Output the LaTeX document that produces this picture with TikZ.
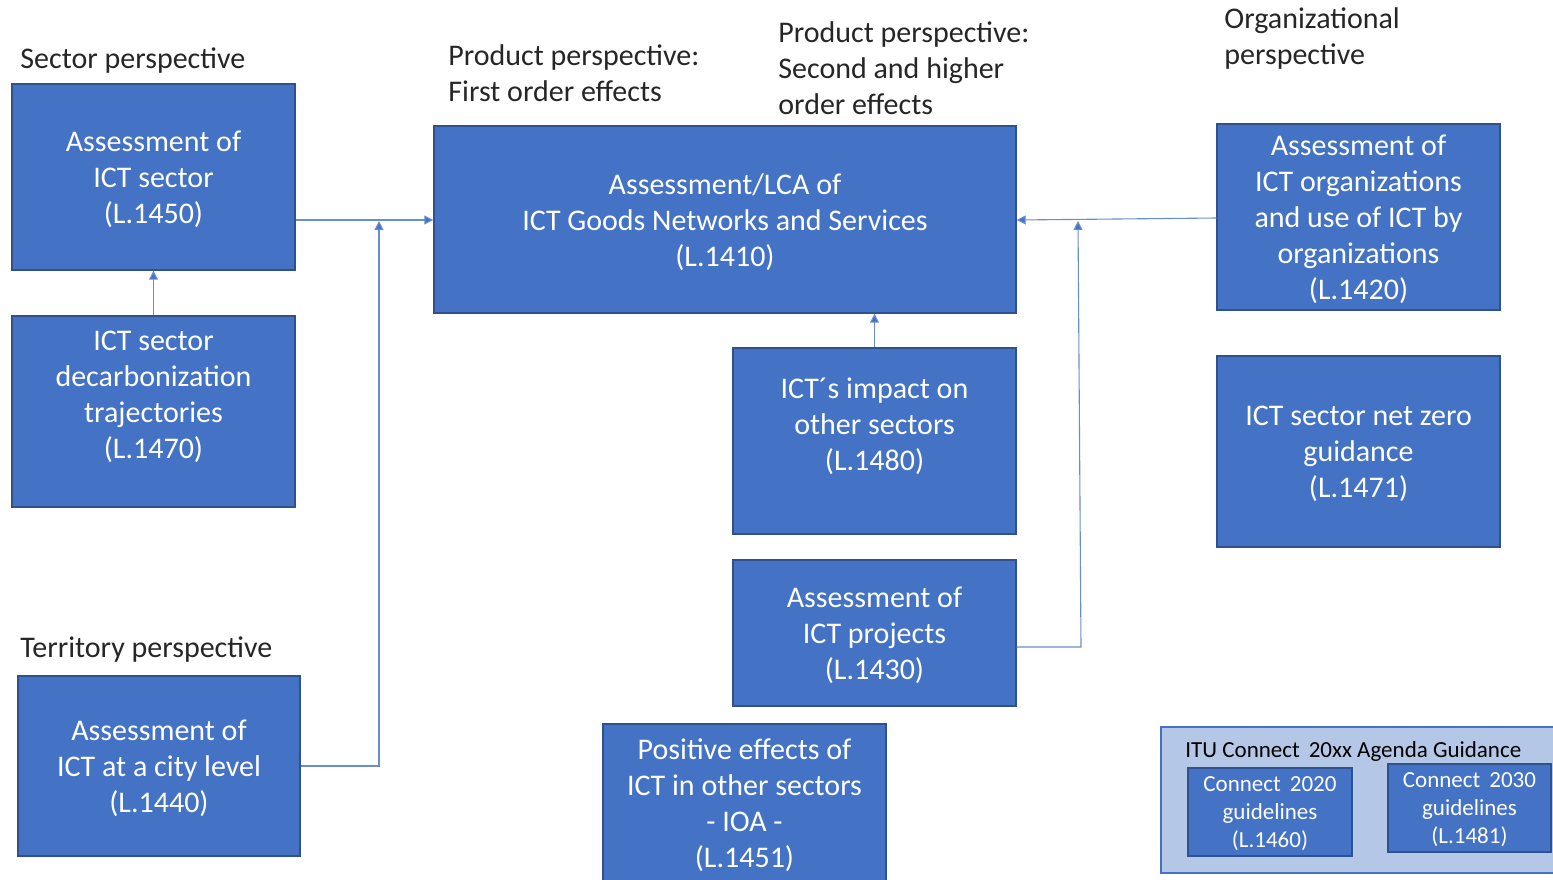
\documentclass[tikz,border=0pt]{standalone}
\usepackage{fontspec}
\setmainfont{Carlito}
\usetikzlibrary{arrows.meta,calc}
\definecolor{boxblue}{HTML}{4472C4}
\definecolor{boxedge}{HTML}{2F528F}
\definecolor{lightblue}{HTML}{B4C7E7}
\definecolor{linkblue}{HTML}{4472C4}
\definecolor{labelgray}{HTML}{262626}
\tikzset{
  box/.style={draw=boxedge, line width=0.7pt, fill=boxblue, inner sep=0pt},
  boxtxt/.style={text=white, align=center, font=\fontsize{15}{18}\selectfont, inner sep=0pt, yshift=-1.2pt},
  smalltxt/.style={text=white, align=center, font=\fontsize{11.5}{14}\selectfont, inner sep=0pt, yshift=-0.8pt},
  heading/.style={text=labelgray, align=left, anchor=west, font=\fontsize{15}{18}\selectfont, inner sep=0pt, yshift=-1.2pt},
  link/.style={draw=linkblue!80, line width=0.55pt},
  arr/.style={link, -{Triangle[length=4.5pt,width=4.5pt,fill=linkblue]}},
}
\begin{document}
\begin{tikzpicture}[x=0.5pt,y=-0.5pt]
\useasboundingbox (0,0) rectangle (1553,879);
% headings
\node[heading] (hsec) at (20,58) {Sector perspective};
\node[heading] (hprod1) at (448,71) {Product perspective:\\First order effects};
\node[heading] (hprod2) at (778,66) {Product perspective:\\Second and higher\\order effects};
\node[heading] (horg) at (1224,36) {Organizational\\perspective};
\node[heading] (hter) at (20,647) {Territory perspective};
% boxes
\node[box, minimum width=141.5pt, minimum height=93pt] (a1450) at (153.5,177) {};
\node[boxtxt] at (a1450.center) {Assessment of\\ICT sector\\(L.1450)};
\node[box, minimum width=141.5pt, minimum height=95.5pt] (b1470) at (153.5,411.5) {};
\node[boxtxt] at ($(b1470.center)+(0,-17.5)$) {ICT sector\\decarbonization\\trajectories\\(L.1470)};
\node[box, minimum width=291pt, minimum height=93.5pt] (lca) at (725,219.5) {};
\node[boxtxt] at (lca.center) {Assessment/LCA of\\ICT Goods Networks and Services\\(L.1410)};
\node[box, minimum width=141.5pt, minimum height=93pt] (c1480) at (874.5,441) {};
\node[boxtxt] at ($(c1480.center)+(0,-17)$) {ICT´s impact on\\other sectors\\(L.1480)};
\node[box, minimum width=141.5pt, minimum height=73pt] (c1430) at (874.5,633) {};
\node[boxtxt] at (c1430.center) {Assessment of\\ICT projects\\(L.1430)};
\node[box, minimum width=141.5pt, minimum height=79pt] (c1451) at (744.5,803) {};
\node[boxtxt] at (c1451.center) {Positive effects of\\ICT in other sectors\\- IOA -\\(L.1451)};
\node[box, minimum width=141.5pt, minimum height=93pt] (o1420) at (1358.5,217) {};
\node[boxtxt] at (o1420.center) {Assessment of\\ICT organizations\\and use of ICT by\\organizations\\(L.1420)};
\node[box, minimum width=141.5pt, minimum height=95.5pt] (o1471) at (1358.5,451.5) {};
\node[boxtxt] at (o1471.center) {ICT sector net zero\\guidance\\(L.1471)};
\node[box, minimum width=141pt, minimum height=90pt] (t1440) at (159,766) {};
\node[boxtxt] at (t1440.center) {Assessment of\\ICT at a city level\\(L.1440)};
% ITU guidance
\node[draw=linkblue, line width=0.8pt, fill=lightblue, minimum width=202pt, minimum height=73pt, inner sep=0pt] (itu) at (1363,800) {};
\node[text=black, anchor=west, font=\fontsize{11.5}{14}\selectfont, inner sep=0pt, yshift=-0.8pt] (itut) at (1185,750) {ITU Connect\, 20xx Agenda Guidance};
\node[box, minimum width=82pt, minimum height=44pt] (g1460) at (1270,812) {};
\node[smalltxt] at (g1460.center) {Connect\, 2020\\guidelines\\(L.1460)};
\node[box, minimum width=81.5pt, minimum height=44pt] (g1481) at (1469.5,808) {};
\node[smalltxt] at (g1481.center) {Connect\, 2030\\guidelines\\(L.1481)};
% connectors
\coordinate (j1) at (379,766);
\coordinate (j1top) at (379,221);
\coordinate (j2) at (1081,647);
\coordinate (j2top) at (1078,221);
\draw[arr] (a1450.east |- 0,220) -- (lca.west |- 0,220);
\draw[arr] (t1440.east |- j1) -- (j1) -- (j1top);
\draw[arr] (b1470.north) -- (a1450.south);
\draw[arr] (c1480.north) -- (c1480.north |- lca.south);
\draw[arr] (o1420.west |- 0,218) -- (lca.east |- 0,220);
\draw[arr] (c1430.east |- j2) -- (j2) -- (j2top);
\end{tikzpicture}
\end{document}
